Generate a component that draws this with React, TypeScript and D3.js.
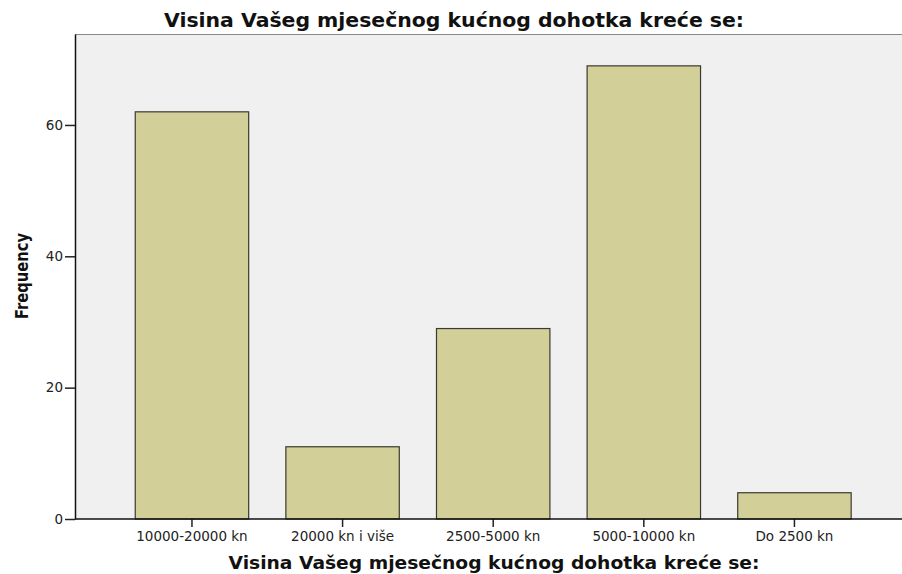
import { useEffect, useRef } from 'react';
import * as d3 from 'd3';

const categories = ['10000-20000 kn', '20000 kn i više', '2500-5000 kn', '5000-10000 kn', 'Do 2500 kn'];
const frequencies = [62, 11, 29, 69, 4];
const yTicks = [0, 20, 40, 60];
const chartTitle = 'Visina Vašeg mjesečnog kućnog dohotka kreće se:';
const xTitle = 'Visina Vašeg mjesečnog kućnog dohotka kreće se:';
const yTitle = 'Frequency';

export default function App() {
  const ref = useRef<SVGSVGElement>(null);

  useEffect(() => {
    if (!ref.current) return;
    const svg = d3.select(ref.current);
    svg.selectAll('*').remove();

    const width = 902;
    const height = 574;
    const left = 75;
    const top = 34;
    const bottom = 519;
    const right = 911.4;
    const font = '"DejaVu Sans", Verdana, sans-serif';

    const x = d3.scaleBand<string>().domain(categories).range([left, right]).paddingInner(0.247).paddingOuter(0.4);
    const y = d3.scaleLinear().domain([0, 73.85]).range([bottom, top]);

    svg.append('rect').attr('width', width).attr('height', height).attr('fill', '#fff');
    svg.append('rect')
      .attr('x', left)
      .attr('y', top)
      .attr('width', width - left)
      .attr('height', bottom - top)
      .attr('fill', '#f0f0f0');
    svg.append('line')
      .attr('x1', left).attr('x2', width)
      .attr('y1', top + 0.5).attr('y2', top + 0.5)
      .attr('stroke', '#888').attr('stroke-width', 1.2);

    svg.append('g')
      .selectAll('rect')
      .data(frequencies)
      .join('rect')
      .attr('x', (_, i) => x(categories[i])!)
      .attr('y', (d) => y(d))
      .attr('width', x.bandwidth())
      .attr('height', (d) => bottom - y(d))
      .attr('fill', '#d3cf98')
      .attr('stroke', '#3a3a30')
      .attr('stroke-width', 1.2);

    const yAxis = svg.append('g').attr('transform', `translate(${left},0)`)
      .call(d3.axisLeft(y).tickValues(yTicks).tickSize(10).tickPadding(2).tickSizeOuter(0));
    yAxis.select('.domain').attr('stroke', '#111').attr('stroke-width', 1.5);
    yAxis.selectAll('.tick line').attr('stroke', '#222').attr('stroke-width', 1.5);
    yAxis.selectAll('text').attr('font-family', font).attr('font-size', 13.5).attr('fill', '#222');

    const xAxis = svg.append('g').attr('transform', `translate(0,${bottom})`)
      .call(d3.axisBottom(x).tickSize(8).tickSizeOuter(0));
    xAxis.select('.domain').remove();
    svg.append('line')
      .attr('x1', left).attr('x2', width)
      .attr('y1', bottom).attr('y2', bottom)
      .attr('stroke', '#111').attr('stroke-width', 1.5);
    xAxis.selectAll('.tick line').attr('stroke', '#222').attr('stroke-width', 1.5);
    xAxis.selectAll('text')
      .attr('y', 22).attr('dy', null)
      .attr('font-family', font).attr('font-size', 13.5).attr('fill', '#222');

    svg.append('text')
      .attr('x', 454).attr('y', 27)
      .attr('text-anchor', 'middle')
      .attr('font-family', font).attr('font-weight', 'bold').attr('font-size', 19)
      .attr('textLength', 580).attr('lengthAdjust', 'spacingAndGlyphs')
      .attr('fill', '#111')
      .text(chartTitle);

    svg.append('text')
      .attr('x', 494).attr('y', 569)
      .attr('text-anchor', 'middle')
      .attr('font-family', font).attr('font-weight', 'bold').attr('font-size', 17.5)
      .attr('textLength', 531).attr('lengthAdjust', 'spacingAndGlyphs')
      .attr('fill', '#111')
      .text(xTitle);

    svg.append('text')
      .attr('transform', `translate(28,276) rotate(-90)`)
      .attr('text-anchor', 'middle')
      .attr('font-family', font).attr('font-weight', 'bold').attr('font-size', 18)
      .attr('textLength', 86).attr('lengthAdjust', 'spacingAndGlyphs')
      .attr('fill', '#111')
      .text(yTitle);
  }, []);

  return <svg ref={ref} width={902} height={574} style={{ position: 'absolute', left: 0, top: 0 }} />;
}
